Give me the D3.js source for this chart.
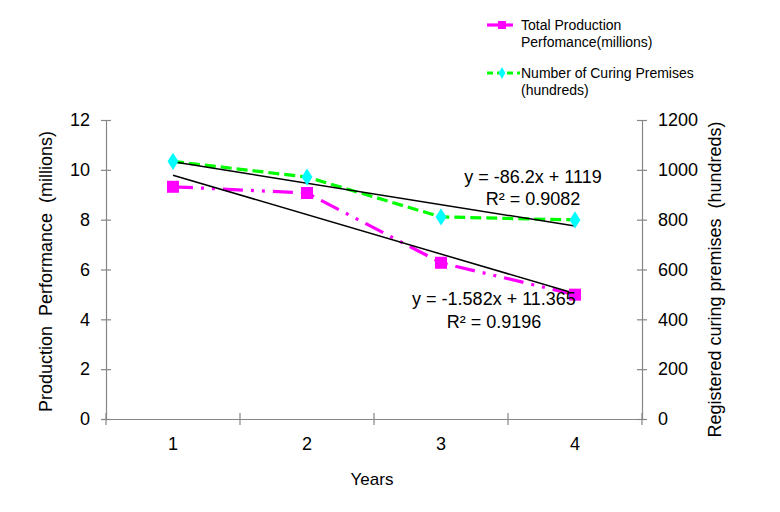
<!DOCTYPE html>
<html><head><meta charset="utf-8">
<script src="https://cdn.jsdelivr.net/npm/d3@7"></script>
<style>body{margin:0;background:#fff}svg{display:block;font-family:"Liberation Sans",Arial,sans-serif}</style>
</head><body>
<svg id="c" width="780" height="512"></svg>
<script>
const years = ["1","2","3","4"];
const production = [9.32, 9.07, 6.27, 4.99];
const premises = [1034, 971, 811, 799];
const leftTicks = [0,2,4,6,8,10,12];
const rightTicks = [0,200,400,600,800,1000,1200];
const prodTrend = {slope:-1.582, intercept:11.365, label:"y = -1.582x + 11.365", r2:"R² = 0.9196"};
const premTrend = {slope:-86.2, intercept:1119, label:"y = -86.2x + 1119", r2:"R² = 0.9082"};
const seriesNames = ["Total Production", "Perfomance(millions)", "Number of Curing Premises", "(hundreds)"];

const svg = d3.select("#c");
const L = 106, R = 642, T = 120, B = 419;
const x = d3.scaleBand().domain(years).range([L, R]);
const xc = d => x(d) + x.bandwidth()/2;
const yL = d3.scaleLinear().domain([0,12]).range([B, T]);
const yR = d3.scaleLinear().domain([0,1200]).range([B, T]);
const axisCol = "#868686";

const gl = svg.append("g").attr("transform", `translate(${L},0)`)
  .call(d3.axisLeft(yL).tickValues(leftTicks).tickFormat(d3.format("d")).tickSize(5).tickPadding(11));
const gr = svg.append("g").attr("transform", `translate(${R},0)`)
  .call(d3.axisRight(yR).tickValues(rightTicks).tickFormat(d3.format("d")).tickSize(5).tickPadding(11));
const gb = svg.append("g").attr("transform", `translate(0,${B})`)
  .call(d3.axisBottom(x).tickSize(0).tickPadding(18));
[gl, gr, gb].forEach(g => {
  g.select(".domain").attr("stroke", axisCol).attr("stroke-width", 1.2);
  g.selectAll(".tick line").attr("stroke", axisCol).attr("stroke-width", 1.2);
  g.selectAll("text").attr("fill", "#000").style("font-size", "18px").style("font-family", "Liberation Sans, Arial, sans-serif");
});
gl.selectAll(".tick line").attr("x1", 5).attr("x2", -5);
gr.selectAll(".tick line").attr("x1", -5).attr("x2", 5);
gb.selectAll(".tick").attr("transform", d => `translate(${xc(d)},0)`);
const bounds = years.map(d => x(d)).concat([R]);
svg.append("g").selectAll("line").data(bounds).join("line")
  .attr("x1", d => d).attr("x2", d => d).attr("y1", B - 6).attr("y2", B + 6)
  .attr("stroke", axisCol).attr("stroke-width", 1.2);

svg.append("text").attr("transform", `translate(52,${(T+B)/2+2}) rotate(-90)`)
  .attr("text-anchor","middle").style("font-size","18px").style("white-space","pre")
  .text("Production  Performance  (millions)");
svg.append("text").attr("transform", `translate(721,${(T+B)/2+10}) rotate(-90)`)
  .attr("text-anchor","middle").style("font-size","18px").style("white-space","pre")
  .text("Registered curing premises  (hundreds)");
svg.append("text").attr("x", (L+R)/2 - 2).attr("y", 485).attr("text-anchor","middle")
  .style("font-size","17px").text("Years");

const trendLine = (t, ys) => svg.append("line")
  .attr("x1", xc("1")).attr("y1", ys(t.intercept + t.slope*1))
  .attr("x2", xc("4")).attr("y2", ys(t.intercept + t.slope*4))
  .attr("stroke", "#000").attr("stroke-width", 1.5);

const lineP = d3.line().x((d,i) => xc(years[i])).y(d => yL(d));
svg.append("path").attr("d", lineP(production)).attr("fill","none")
  .attr("stroke","#FF00FF").attr("stroke-width",3.2).attr("stroke-dasharray","20,8,3,8,3,8");
const lineR = d3.line().x((d,i) => xc(years[i])).y(d => yR(d));
svg.append("path").attr("d", lineR(premises)).attr("fill","none")
  .attr("stroke","#00FF00").attr("stroke-width",3.2).attr("stroke-dasharray","11,5");

trendLine(prodTrend, yL);
trendLine(premTrend, yR);

svg.append("g").selectAll("rect").data(production).join("rect")
  .attr("x",(d,i)=>xc(years[i])-6).attr("y",d=>yL(d)-6).attr("width",12).attr("height",12)
  .attr("fill","#FF00FF");
const diamond = d3.symbol().type(d3.symbolDiamond).size(85);
svg.append("g").selectAll("path").data(premises).join("path")
  .attr("d", diamond).attr("transform",(d,i)=>`translate(${xc(years[i])},${yR(d)}) scale(1.1,1)`)
  .attr("fill","#00FFFF");

svg.append("text").attr("x",533).attr("y",183).attr("text-anchor","middle").style("font-size","18px").text(premTrend.label);
svg.append("text").attr("x",533).attr("y",205).attr("text-anchor","middle").style("font-size","18px").text(premTrend.r2);
svg.append("text").attr("x",494).attr("y",305).attr("text-anchor","middle").style("font-size","18px").text(prodTrend.label);
svg.append("text").attr("x",494).attr("y",328).attr("text-anchor","middle").style("font-size","18px").text(prodTrend.r2);

const lg = svg.append("g");
lg.append("line").attr("x1",487).attr("x2",513).attr("y1",25).attr("y2",25).attr("stroke","#FF00FF").attr("stroke-width",3.2);
lg.append("rect").attr("x",498).attr("y",21).attr("width",8).attr("height",8).attr("fill","#FF00FF");
lg.append("text").attr("x",521).attr("y",30).style("font-size","14px").text(seriesNames[0]);
lg.append("text").attr("x",521).attr("y",47).style("font-size","14px").text(seriesNames[1]);
lg.append("line").attr("x1",487).attr("x2",520).attr("y1",73).attr("y2",73).attr("stroke","#00FF00").attr("stroke-width",3.2).attr("stroke-dasharray","6,4");
lg.append("path").attr("d", d3.symbol().type(d3.symbolDiamond).size(40)).attr("transform","translate(502,73)").attr("fill","#00FFFF");
lg.append("text").attr("x",521).attr("y",78).style("font-size","14px").text(seriesNames[2]);
lg.append("text").attr("x",521).attr("y",95).style("font-size","14px").text(seriesNames[3]);
</script>
</body></html>
